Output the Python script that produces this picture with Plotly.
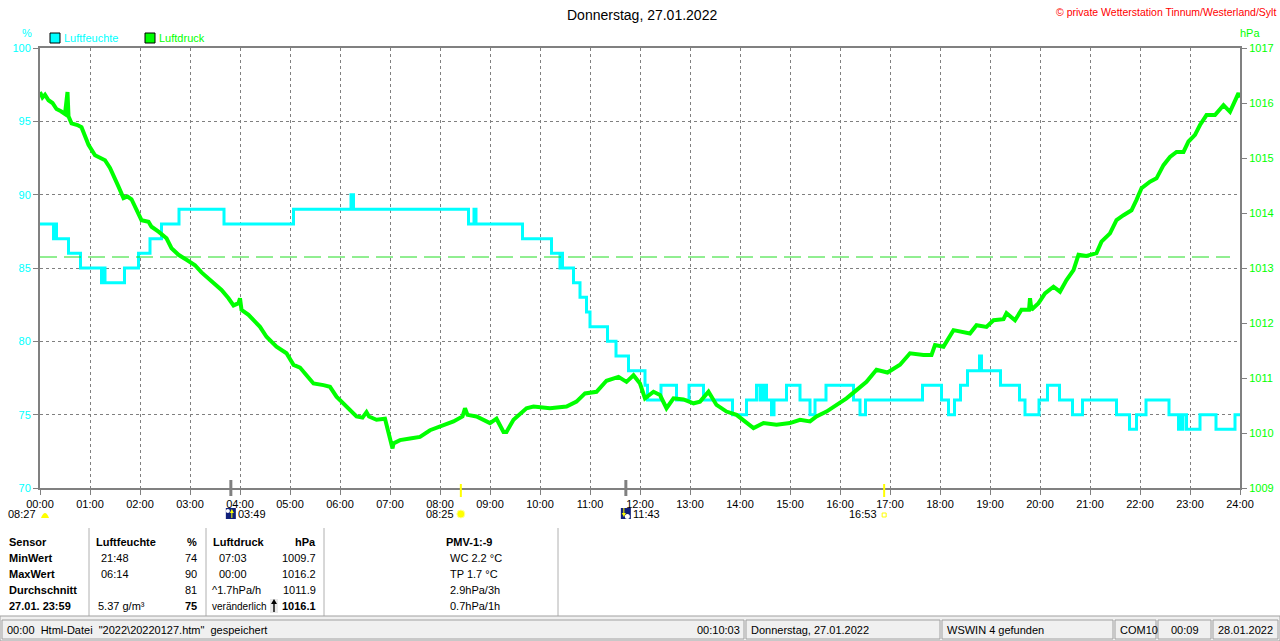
import plotly.graph_objects as go

FONT = 'Liberation Sans, Arial, sans-serif'
W, H = 1280, 641
L, R, T, B = 40, 1240, 48, 488   # Plotbereich in Pixeln

# Stunden-Achse
hours = list(range(25))
hour_labels = [f'{h:02d}:00' for h in hours]

# Luftfeuchte (%), Wechselpunkte der Treppe
hum_t = [0.00, 0.27, 0.30, 0.33, 0.57, 0.81, 1.23, 1.27, 1.30, 1.69, 1.97, 2.20, 2.43, 2.78,
         3.68, 5.07, 6.22, 6.27, 8.57, 8.68, 8.72, 9.65, 10.23, 10.40, 10.42, 10.45, 10.67,
         10.80, 10.93, 11.00, 11.35, 11.52, 11.77, 12.10, 12.15, 12.42, 12.73, 12.98, 13.27,
         13.85, 14.13, 14.33, 14.40, 14.42, 14.47, 14.49, 14.53, 14.63, 14.68, 14.93, 15.20,
         15.40, 15.50, 15.72, 16.27, 16.40, 16.51, 17.65, 18.03, 18.17, 18.29, 18.41, 18.55,
         18.79, 18.83, 19.21, 19.59, 19.70, 19.98, 20.15, 20.39, 20.65, 20.85, 21.53, 21.79,
         21.93, 22.12, 22.58, 22.77, 22.80, 22.83, 22.86, 22.93, 23.20, 23.52, 23.90, 24.00]
hum_v = [88, 87, 88, 87, 86, 85, 84, 85, 84, 85, 86, 87, 88, 89,
         88, 89, 90, 89, 88, 89, 88, 87, 86, 85, 86, 85, 84,
         83, 82, 81, 80, 79, 78, 77, 76, 77, 76, 77, 76,
         75, 76, 77, 76, 77, 76, 77, 76, 75, 76, 77, 76,
         75, 76, 77, 76, 75, 76, 77, 76, 75, 76, 77, 78,
         79, 78, 77, 76, 75, 76, 77, 76, 75, 76, 75, 74,
         75, 76, 75, 74, 75, 74, 75, 74, 75, 74, 75, 75]

# Luftdruck (hPa)
druck_t = [0.00, 0.05, 0.10, 0.17, 0.25, 0.33, 0.42, 0.50, 0.55, 0.57, 0.63, 0.75, 0.83, 0.97,
           1.10, 1.30, 1.40, 1.47, 1.57, 1.67, 1.75, 1.83, 1.93, 2.03, 2.17, 2.23, 2.37, 2.53,
           2.63, 2.77, 2.93, 3.10, 3.23, 3.43, 3.63, 3.77, 3.87, 3.97, 4.00, 4.03, 4.17, 4.40,
           4.53, 4.73, 4.93, 5.07, 5.20, 5.33, 5.47, 5.67, 5.80, 5.93, 6.07, 6.20, 6.33, 6.45,
           6.53, 6.58, 6.73, 6.90, 7.00, 7.05, 7.07, 7.20, 7.40, 7.60, 7.80, 8.00, 8.27, 8.45,
           8.50, 8.55, 8.73, 9.00, 9.13, 9.27, 9.33, 9.47, 9.60, 9.73, 9.87, 10.20, 10.53, 10.73,
           10.90, 11.13, 11.33, 11.57, 11.73, 11.87, 12.00, 12.10, 12.27, 12.40, 12.53, 12.67,
           12.87, 13.07, 13.20, 13.37, 13.53, 13.73, 13.93, 14.07, 14.27, 14.47, 14.73, 15.00,
           15.20, 15.40, 15.53, 15.73, 15.93, 16.13, 16.33, 16.53, 16.73, 16.95, 17.20, 17.40,
           17.67, 17.83, 17.90, 18.07, 18.27, 18.47, 18.60, 18.73, 18.93, 19.07, 19.27, 19.33,
           19.50, 19.63, 19.78, 19.80, 19.83, 19.97, 20.10, 20.27, 20.40, 20.53, 20.67, 20.77,
           20.93, 21.13, 21.23, 21.40, 21.53, 21.67, 21.83, 21.93, 22.03, 22.20, 22.33, 22.47,
           22.60, 22.73, 22.87, 22.97, 23.10, 23.20, 23.33, 23.50, 23.67, 23.80, 23.90, 23.97, 24.00]
druck_v = [1016.20, 1016.10, 1016.15, 1016.05, 1016.00, 1015.89, 1015.85, 1015.80, 1016.20, 1015.76,
           1015.63, 1015.60, 1015.56, 1015.24, 1015.05, 1014.96, 1014.82, 1014.66, 1014.48, 1014.27,
           1014.30, 1014.25, 1014.05, 1013.87, 1013.84, 1013.75, 1013.66, 1013.54, 1013.36, 1013.24,
           1013.15, 1013.05, 1012.92, 1012.75, 1012.60, 1012.45, 1012.32, 1012.36, 1012.45, 1012.24,
           1012.15, 1011.93, 1011.75, 1011.57, 1011.45, 1011.24, 1011.19, 1011.05, 1010.90, 1010.87,
           1010.84, 1010.66, 1010.54, 1010.42, 1010.30, 1010.28, 1010.38, 1010.30, 1010.24, 1010.26,
           1009.93, 1009.72, 1009.81, 1009.87, 1009.90, 1009.93, 1010.05, 1010.11, 1010.21, 1010.30,
           1010.45, 1010.33, 1010.30, 1010.18, 1010.26, 1010.02, 1010.02, 1010.24, 1010.35, 1010.45,
           1010.48, 1010.45, 1010.48, 1010.57, 1010.72, 1010.75, 1010.95, 1011.02, 1010.93, 1011.05,
           1010.90, 1010.63, 1010.75, 1010.69, 1010.45, 1010.63, 1010.61, 1010.54, 1010.57, 1010.75,
           1010.51, 1010.39, 1010.33, 1010.24, 1010.09, 1010.18, 1010.15, 1010.18, 1010.24, 1010.21,
           1010.30, 1010.39, 1010.51, 1010.63, 1010.78, 1010.93, 1011.15, 1011.10, 1011.24, 1011.45,
           1011.42, 1011.42, 1011.60, 1011.57, 1011.87, 1011.84, 1011.81, 1011.96, 1011.93, 1012.05,
           1012.07, 1012.18, 1012.05, 1012.24, 1012.24, 1012.45, 1012.24, 1012.36, 1012.54, 1012.66,
           1012.57, 1012.78, 1012.96, 1013.24, 1013.22, 1013.27, 1013.48, 1013.63, 1013.87, 1013.96,
           1014.05, 1014.24, 1014.45, 1014.57, 1014.63, 1014.87, 1015.02, 1015.11, 1015.11, 1015.30,
           1015.42, 1015.60, 1015.78, 1015.78, 1015.96, 1015.84, 1016.05, 1016.18, 1016.10]

norm_druck = 1013.2   # gestrichelte Linie
norm_bis = 23.8

# Mond/Sonne: Mondaufgang, Sonnenaufgang, Monduntergang, Sonnenuntergang
event_labels = ['03:49', '08:25', '11:43', '16:53']
event_t = [3.817, 8.417, 11.717, 16.883]

# Tabelle unten
tab_rows = ['Sensor', 'MinWert', 'MaxWert', 'Durchschnitt', '27.01. 23:59']
feuchte_zeit = ['', '21:48', '06:14', '', '5.37 g/m³']
feuchte_wert = ['%', '74', '90', '81', '75']
druck_zeit = ['', '07:03', '00:00', '^1.7hPa/h', 'veränderlich']
druck_wert = ['hPa', '1009.7', '1016.2', '1011.9', '1016.1']
pmv_text = ['PMV-1:-9', 'WC 2.2 °C', 'TP 1.7 °C', '2.9hPa/3h', '0.7hPa/1h']

status_felder = ['', 'Donnerstag, 27.01.2022', 'WSWIN 4 gefunden', 'COM10', '00:09', '28.01.2022']


def px(x):
    return (x - L) / (R - L)


def py(y):
    return (B - y) / (B - T)


def txt(x, y, s, anchor='left', size=11, color='black', bold=False):
    return dict(x=px(x), y=py(y), xref='paper', yref='paper',
                text=f'<b>{s}</b>' if bold else s, showarrow=False,
                xanchor=anchor, yanchor='middle', borderpad=0,
                font=dict(size=size, color=color, family=FONT))


def rect(x0, y0, x1, y1, fill=None, line='black', lw=1):
    return dict(type='rect', xref='paper', yref='paper',
                x0=px(x0), x1=px(x1), y0=py(y0), y1=py(y1),
                fillcolor=fill, line=dict(color=line, width=lw), layer='above')


def pfad(punkte, fill):
    p = ' L '.join(f'{px(x)},{py(y)}' for x, y in punkte)
    return dict(type='path', xref='paper', yref='paper', path=f'M {p} Z',
                fillcolor=fill, line=dict(width=0), layer='above')


fig = go.Figure()

fig.add_trace(go.Scatter(x=[0, norm_bis], y=[norm_druck, norm_druck], yaxis='y2', mode='lines',
                         line=dict(color='#22dd22', width=1, dash='17px,7px'), hoverinfo='skip'))
fig.add_trace(go.Scatter(x=druck_t, y=druck_v, yaxis='y2', mode='lines', name='Luftdruck',
                         line=dict(color='#00ff00', width=4)))
fig.add_trace(go.Scatter(x=hum_t, y=hum_v, mode='lines', name='Luftfeuchte',
                         line=dict(color='#00ffff', width=3, shape='hv')))

shapes = []
ann = []

# Kopf
ann.append(txt(642, 15, 'Donnerstag, 27.01.2022', 'center', size=14))
ann.append(txt(1277, 12, '© private Wetterstation Tinnum/Westerland/Sylt', 'right', size=10.5, color='#ff0000'))
ann.append(txt(27, 33, '%', 'center', color='#00ffff'))
ann.append(txt(1250, 33, 'hPa', 'center', color='#00ff00'))

# Legende
shapes.append(rect(50, 33, 60, 43, fill='#00ffff'))
ann.append(txt(63, 38, 'Luftfeuchte', color='#00ffff'))
shapes.append(rect(145, 33, 155, 43, fill='#00ff00'))
ann.append(txt(158, 38, 'Luftdruck', color='#00ff00'))

# Marken fuer Sonne/Mond auf der Zeitachse
for i, t in enumerate(event_t):
    xp = L + t * (R - L) / 24
    mond = i in (0, 2)
    shapes.append(dict(type='line', xref='x', yref='paper', x0=t, x1=t,
                       y0=py(480 if mond else 484), y1=py(496 if mond else 497),
                       line=dict(color='#808080' if mond else '#ffff00', width=3 if mond else 2),
                       layer='above'))
    if mond:
        shapes.append(rect(xp - 5, 508, xp + 5, 519, fill='#10207a', line='#10207a', lw=0))
        if i == 0:
            shapes.append(dict(type='circle', xref='paper', yref='paper', x0=px(xp - 5), x1=px(xp - 1),
                               y0=py(513), y1=py(509), fillcolor='white', line=dict(width=0)))
            shapes.append(pfad([(xp - 1, 513), (xp + 3, 513), (xp + 1, 509)], '#ffff00'))
            shapes.append(pfad([(xp + 0.5, 513), (xp + 1.5, 513), (xp + 1.5, 518), (xp + 0.5, 518)], '#ffff00'))
        else:
            shapes.append(dict(type='circle', xref='paper', yref='paper', x0=px(xp - 1), x1=px(xp + 4),
                               y0=py(519), y1=py(514), fillcolor='white', line=dict(width=0)))
            shapes.append(pfad([(xp - 4, 513), (xp, 513), (xp - 2, 517)], '#ffff00'))
            shapes.append(pfad([(xp - 2.5, 508), (xp - 1.5, 508), (xp - 1.5, 513), (xp - 2.5, 513)], '#ffff00'))
        ann.append(txt(xp + 6, 514, event_labels[i]))
    else:
        ann.append(txt(xp - 6, 514, event_labels[i], 'right'))
        if i == 1:
            shapes.append(dict(type='circle', xref='paper', yref='paper', x0=px(xp - 4), x1=px(xp + 4),
                               y0=py(518), y1=py(510), fillcolor='#ffff00',
                               line=dict(color='#ffffa0', width=1)))
        else:
            shapes.append(rect(xp - 2, 513, xp + 2, 517, line='#ffff00'))

# Tageslaenge links unter der Achse
ann.append(txt(37, 514, '08:27', 'right'))
shapes.append(dict(type='path', xref='paper', yref='paper',
                   path=f'M {px(41)},{py(518)} Q {px(45)},{py(508)} {px(49)},{py(518)} Z',
                   fillcolor='#ffff00', line=dict(width=0)))

# Tabelle
row_y = [542, 558, 574, 590, 606]
for i, y in enumerate(row_y):
    kopf = i == 0
    ann.append(txt(8, y, tab_rows[i], bold=True))
    if kopf:
        ann.append(txt(95, y, 'Luftfeuchte', bold=True))
        ann.append(txt(212, y, 'Luftdruck', bold=True))
        ann.append(txt(469, y, pmv_text[i], 'center', bold=True))
    else:
        ann.append(txt(100 if i < 4 else 97, y, feuchte_zeit[i]))
        ann.append(txt(218 if i < 3 else 211, y, druck_zeit[i], size=11 if i < 4 else 10))
        ann.append(txt(449, y, pmv_text[i]))
    ann.append(txt(198, y, feuchte_wert[i], 'right', bold=kopf or i == 4))
    ann.append(txt(317, y, druck_wert[i], 'right', bold=kopf or i == 4))

# Pfeil "veraenderlich"
shapes.append(rect(270, 599, 278, 613, fill='#e8e8e8', line='#e8e8e8', lw=0))
shapes.append(pfad([(271, 604), (277, 604), (274, 599)], 'black'))
shapes.append(pfad([(273.3, 604), (274.7, 604), (274.7, 612), (273.3, 612)], 'black'))

for x in (89, 206, 324, 558):
    shapes.append(dict(type='line', xref='paper', yref='paper', x0=px(x), x1=px(x),
                       y0=py(528), y1=py(616), line=dict(color='#b0b0b0', width=1)))

# Statusleiste
shapes.append(rect(0, 616, W, H, fill='#f0f0f0', line='#a0a0a0'))
panels = [(2, 744), (746, 940), (942, 1113), (1115, 1156), (1158, 1211), (1213, 1278)]
for (a, b), s in zip(panels, status_felder):
    shapes.append(rect(a, 620, b, 639, fill='#f0f0f0', line='#a0a0a0'))
    if s:
        ann.append(txt(a + 4 if s[0].isalpha() else (a + b) / 2, 630, s,
                       'left' if s[0].isalpha() else 'center'))
ann.append(txt(6, 630, '00:00  Html-Datei  "2022\\20220127.htm"  gespeichert'))
ann.append(txt(741, 630, '00:10:03', 'right'))

achse = dict(showline=True, linecolor='#808080', linewidth=2, ticks='outside', ticklen=5,
             tickcolor='#808080', zeroline=False, automargin=False)

fig.update_layout(
    width=W, height=H, autosize=False,
    margin=dict(l=L, r=W - R, t=T, b=H - B, autoexpand=False),
    paper_bgcolor='white', plot_bgcolor='white',
    showlegend=False,
    font=dict(family=FONT, size=11),
    xaxis=dict(range=[0, 24], tickvals=hours, ticktext=hour_labels, mirror=True,
               showgrid=True, gridcolor='#808080', griddash='3px,3px', gridwidth=1,
               tickfont=dict(color='black', size=11), **achse),
    yaxis=dict(range=[70, 100], dtick=5, mirror=True,
               showgrid=True, gridcolor='#808080', griddash='3px,3px', gridwidth=1,
               tickfont=dict(color='#00ffff', size=11), **achse),
    yaxis2=dict(range=[1009, 1017], dtick=1, overlaying='y', side='right', showgrid=False,
                tickfont=dict(color='#00ff00', size=11), **achse),
    shapes=shapes,
    annotations=ann,
)

# Seitenrand des Browsers entfernen, damit das Bild bei 0,0 beginnt
fig.write_html('out.html', config={'displayModeBar': False},
               post_script="document.body.style.margin='0px';")
